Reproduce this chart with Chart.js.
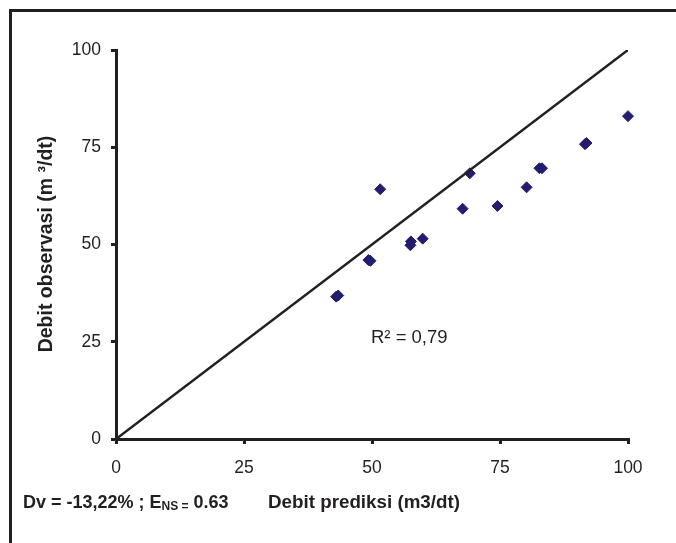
<!DOCTYPE html>
<html>
<head>
<meta charset="utf-8">
<script src="https://cdn.jsdelivr.net/npm/chart.js@4.4.1/dist/chart.umd.min.js"></script>
<style>
    html, body { margin: 0; padding: 0; background: #fff; }
    #wrap { position: relative; width: 676px; height: 543px; overflow: hidden; }
    #frame {
        position: absolute; left: 9px; top: 9px; width: 700px; height: 560px;
        border-top: 3px solid #231f20; border-left: 3px solid #231f20;
    }
    #chart { position: absolute; left: 0; top: 0; }
</style>
</head>
<body>
<div id="wrap">
    <div id="frame"></div>
    <canvas id="chart" width="676" height="543"></canvas>
</div>
<script>
// values
const predicted = [43.0, 43.4, 49.3, 49.7, 51.6, 57.5, 57.6, 59.9, 67.7, 69.1, 74.5, 80.2, 82.7, 83.2, 91.6, 91.9, 100]
const observed = [36.6, 36.9, 46.0, 45.8, 64.2, 49.8, 50.8, 51.5, 59.2, 68.3, 59.9, 64.7, 69.6, 69.6, 75.8, 76.1, 83.0]
const lineX = [0, 100]
const lineY = [0, 100]
const tickValues = [0, 25, 50, 75, 100]

const xTitle = 'Debit prediksi (m3/dt)'
const yTitle = 'Debit observasi (m \u00b3/dt)'
const r2Text = 'R\u00b2 = 0,79'

const ink = '#231f20'
const markColor = '#221d6f'
const font = "'Liberation Sans', Arial, sans-serif"

const textPlugin = {
    id: 'texts',
    afterDraw(chart) {
        const ctx = chart.ctx
        const x = chart.scales.x
        const y = chart.scales.y
        ctx.save()
        ctx.fillStyle = ink
        ctx.textBaseline = 'middle'

        // R² label inside the plot
        ctx.font = `18.5px ${font}`
        ctx.textAlign = 'left'
        ctx.fillText(r2Text, x.getPixelForValue(49.8), y.getPixelForValue(25.9))

        // y axis title
        ctx.save()
        ctx.translate(47, 244)
        ctx.rotate(-Math.PI / 2)
        ctx.font = `bold 19.5px ${font}`
        ctx.textAlign = 'center'
        ctx.fillText(yTitle, 0, 0)
        ctx.restore()

        // x axis title
        ctx.font = `bold 18.8px ${font}`
        ctx.textAlign = 'left'
        ctx.fillText(xTitle, 268, 503)

        // Dv / E_NS note with subscript
        let px = 23
        ctx.font = `bold 18px ${font}`
        const a = 'Dv = -13,22% ; E'
        ctx.fillText(a, px, 503)
        px += ctx.measureText(a).width
        ctx.font = `bold 12px ${font}`
        const b = 'NS ='
        ctx.fillText(b, px, 507)
        px += ctx.measureText(b).width
        ctx.font = `bold 18px ${font}`
        ctx.fillText(' 0.63', px, 503)
        ctx.restore()
    }
}

new Chart(document.querySelector('#chart'), {
    data: {
        datasets: [
            {
                type: 'line',
                data: lineX.map((v, i) => ({ x: v, y: lineY[i] })),
                borderColor: ink,
                borderWidth: 2.5,
                pointRadius: 0,
                fill: false
            },
            {
                type: 'scatter',
                data: predicted.map((v, i) => ({ x: v, y: observed[i] })),
                pointStyle: 'rectRot',
                pointRadius: 5.5,
                borderWidth: 1,
                backgroundColor: markColor,
                borderColor: markColor,
                clip: false
            }
        ]
    },
    options: {
        responsive: false,
        animation: false,
        devicePixelRatio: 1,
        layout: { padding: { left: 0, top: 50, right: 48, bottom: 0 } },
        plugins: { legend: { display: false }, tooltip: { enabled: false } },
        scales: {
            x: {
                type: 'linear',
                min: 0,
                max: 100,
                afterFit: s => { s.height = 104 },
                afterBuildTicks: s => { s.ticks = tickValues.map(v => ({ value: v })) },
                border: { color: ink, width: 3 },
                grid: { drawOnChartArea: false, drawTicks: true, tickLength: 5, lineWidth: 3, color: ink },
                ticks: { color: ink, font: { family: font, size: 17.5 }, padding: 14, maxRotation: 0 }
            },
            y: {
                type: 'linear',
                min: 0,
                max: 100,
                afterFit: s => { s.width = 116 },
                afterBuildTicks: s => { s.ticks = tickValues.map(v => ({ value: v })) },
                border: { color: ink, width: 3 },
                grid: { drawOnChartArea: false, drawTicks: true, tickLength: 5, lineWidth: 3, color: ink },
                ticks: { color: ink, font: { family: font, size: 17.5 }, padding: 10 }
            }
        }
    },
    plugins: [textPlugin]
})
</script>
</body>
</html>
